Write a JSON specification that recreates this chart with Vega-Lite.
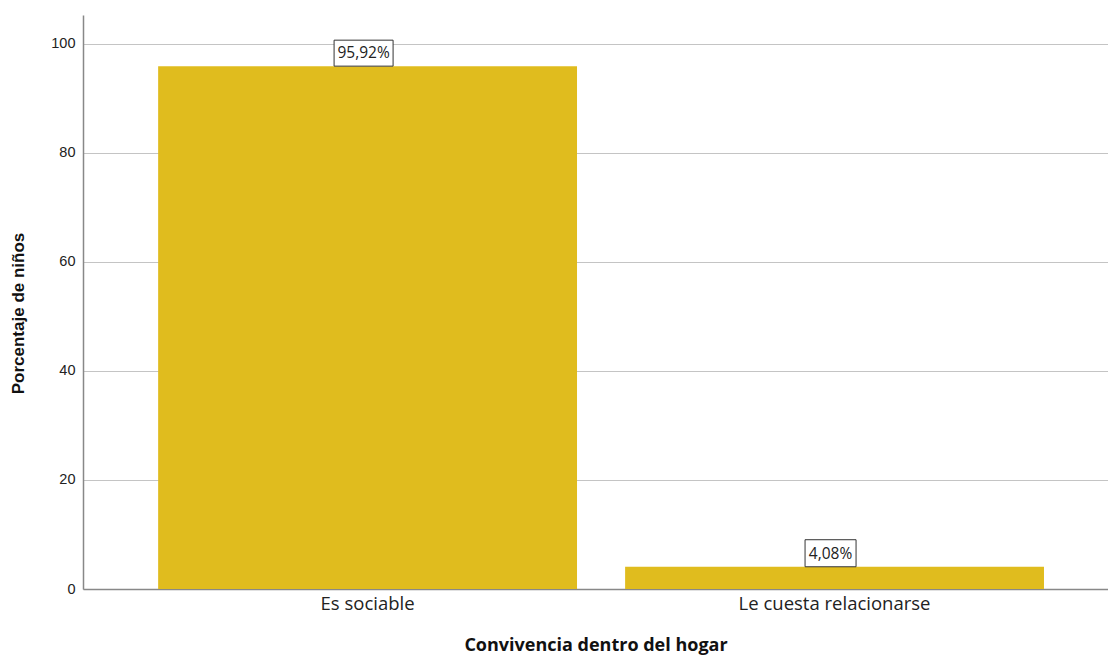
{
  "$schema": "https://vega.github.io/schema/vega-lite/v6.json",
  "width": 1025,
  "height": 574,
  "autosize": "none",
  "padding": {"left": 83, "top": 15, "right": 0, "bottom": 68},
  "background": "white",
  "config": {"view": {"stroke": null}},
  "data": {"values": [
    {"cat": "Es sociable", "pct": 95.92, "label": "95,92%"},
    {"cat": "Le cuesta relacionarse", "pct": 4.08, "label": "4,08%"}
  ]},
  "encoding": {
    "x": {"field": "cat", "type": "nominal", "sort": null,
      "scale": {"paddingInner": 0.103, "paddingOuter": 0.149, "align": 0.54},
      "axis": {"title": "Convivencia dentro del hogar", "labelAngle": 0, "ticks": false, "labelLimit": 500,
        "domainColor": "#888888", "domainWidth": 1.5, "labelFont": "Open Sans", "labelFontSize": 18.5,
        "labelColor": "#222222", "labelPadding": 5, "titleFont": "Open Sans", "titleFontSize": 18,
        "titleFontWeight": "bold", "titleColor": "#111111", "titlePadding": 24}},
    "y": {"field": "pct", "type": "quantitative",
      "scale": {"domain": [0, 105.3], "nice": false},
      "axis": {"title": "Porcentaje de niños", "values": [0, 20, 40, 60, 80, 100], "ticks": false,
        "domainColor": "#888888", "domainWidth": 1.5, "gridColor": "#c4c4c4", "gridWidth": 1,
        "labelFont": "Liberation Sans", "labelFontSize": 14.5, "labelColor": "#222222", "labelPadding": 8,
        "titleFont": "Liberation Sans", "titleFontSize": 17, "titleFontWeight": "bold", "titleColor": "#111111",
        "titlePadding": 23, "titleY": 298}}
  },
  "layer": [
    {"mark": {"type": "bar", "color": "#E0BC1E"}},
    {"mark": {"type": "point", "filled": true, "fill": "white", "stroke": "#333333", "strokeWidth": 1, "opacity": 1, "xOffset": -4},
      "encoding": {
        "shape": {"condition": {"test": "datum.pct > 50", "value": "M-1,-0.88L1,-0.88L1,0L-1,0Z"}, "value": "M-1,-1.06L1,-1.06L1,0L-1,0Z"},
        "size": {"condition": {"test": "datum.pct > 50", "value": 3481}, "value": 2601}
      }},
    {"mark": {"type": "text", "font": "Open Sans", "fontSize": 15.5, "color": "#222222", "dy": -13, "dx": -4, "baseline": "middle"},
      "encoding": {"text": {"field": "label"}}}
  ]
}
